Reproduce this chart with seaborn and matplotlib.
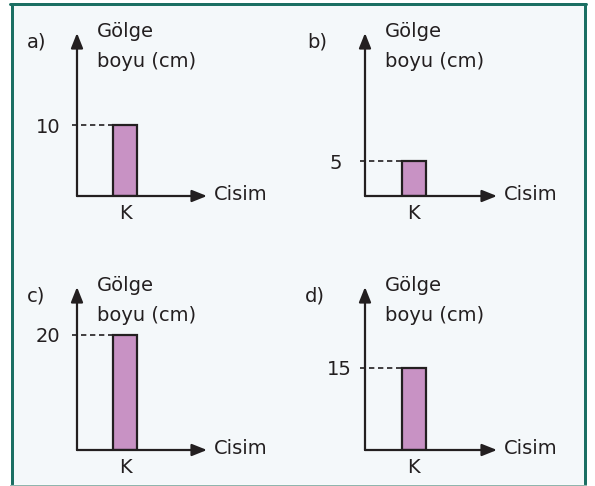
import matplotlib
matplotlib.use("Agg")
import matplotlib.pyplot as plt
import seaborn as sns
import pandas as pd
from matplotlib.lines import Line2D
from matplotlib.patches import Rectangle

# ---- data ----
panel_labels = ["a)", "b)", "c)", "d)"]
shadow_lengths = [10, 5, 20, 15]
categories = ["K"]
y_label_top = "Gölge"
y_label_bottom = "boyu (cm)"
x_label = "Cisim"

# ---- style / layout (pixels) ----
W, H = 595, 486
DPI = 100
sns.set_theme(style="white")
plt.rcParams["font.family"] = ["DejaVu Sans"]

INK = "#231F20"
BAR = "#C892C4"
BG = "#F4F8FA"
TEAL = "#1B6F63"
FS = 14

# origin x, origin y, top y, right x  (pixels from top-left)
frames = [(77, 196, 33, 207), (365, 196, 33, 497),
          (77, 450, 287, 207), (365, 450, 287, 497)]
ytop = [22.96, 23.3, 28.3, 29.8]
label_x = [27, 307, 27, 305]
ytick_pad_px = [17, 23, 17, 13]

fig = plt.figure(figsize=(W / DPI, H / DPI), dpi=DPI)
fig.patch.set_facecolor("white")

def fx(x):
    return x / W

def fy(y):
    return 1 - y / H

# frame
fig.patches.append(Rectangle((fx(11), fy(484)), fx(584) - fx(11), fy(4) - fy(484),
                             transform=fig.transFigure, facecolor=BG, edgecolor="none",
                             zorder=-10))
lw_frame = 3 * 72 / DPI
for xs, ys, c, lw in [([11.5, 11.5], [484, 4], TEAL, lw_frame),
                      ([10, 586], [4, 4], TEAL, lw_frame),
                      ([584.5, 584.5], [484, 4], TEAL, lw_frame),
                      ([10, 586], [484.5, 484.5], "#8FB5AE", 0.8)]:
    fig.lines.append(Line2D([fx(v) for v in xs], [fy(v) for v in ys],
                            transform=fig.transFigure, color=c, lw=lw, zorder=-5))

for i, (ox, oy, ty, rx) in enumerate(frames):
    ax = fig.add_axes([fx(ox), fy(oy), fx(rx) - fx(ox), fy(ty) - fy(oy)])
    ax.set_facecolor("none")
    ax.patch.set_alpha(0)
    df = pd.DataFrame({"cisim": categories, "boy": [shadow_lengths[i]]})
    sns.barplot(data=df, x="cisim", y="boy", color=BAR, edgecolor=INK,
                linewidth=1.6, width=0.5, saturation=1, ax=ax, zorder=3)
    ax.set_xlim(-1.0, 1.7)
    ax.set_ylim(0, ytop[i])
    for s in ax.spines.values():
        s.set_visible(False)
    ax.set_xlabel("")
    ax.set_ylabel("")
    ax.tick_params(axis="x", length=0, pad=6, labelsize=FS, labelcolor=INK)
    ax.set_yticks([shadow_lengths[i]])
    ax.set_yticklabels([str(shadow_lengths[i])])
    ax.tick_params(axis="y", length=0, pad=ytick_pad_px[i] * 72 / DPI,
                   labelsize=FS, labelcolor=INK)
    # dashed guide
    ax.plot([-1.11, -0.25], [shadow_lengths[i]] * 2, color=INK, lw=1.2,
            dashes=(3.2, 2.2), clip_on=False, zorder=2)
    # axes with arrowheads
    ap = dict(arrowstyle="-|>,head_length=0.5,head_width=0.2", lw=1.6, color=INK,
              mutation_scale=18, shrinkA=0, shrinkB=0)
    ax.annotate("", xy=(0, 1), xytext=(0, 0), xycoords="axes fraction",
                arrowprops=ap, annotation_clip=False)
    ax.annotate("", xy=(1, 0), xytext=(0, 0), xycoords="axes fraction",
                arrowprops=ap, annotation_clip=False)
    # texts
    fig.text(fx(ox + 20), fy(ty + 4), y_label_top, fontsize=FS, color=INK,
             ha="left", va="baseline")
    fig.text(fx(ox + 20), fy(ty + 34), y_label_bottom, fontsize=FS, color=INK,
             ha="left", va="baseline")
    fig.text(fx(label_x[i]), fy(ty + 14), panel_labels[i], fontsize=FS, color=INK,
             ha="left", va="baseline")
    fig.text(fx(rx + 7), fy(oy + 4), x_label, fontsize=FS, color=INK,
             ha="left", va="baseline")

fig.savefig("out.png", dpi=DPI)
